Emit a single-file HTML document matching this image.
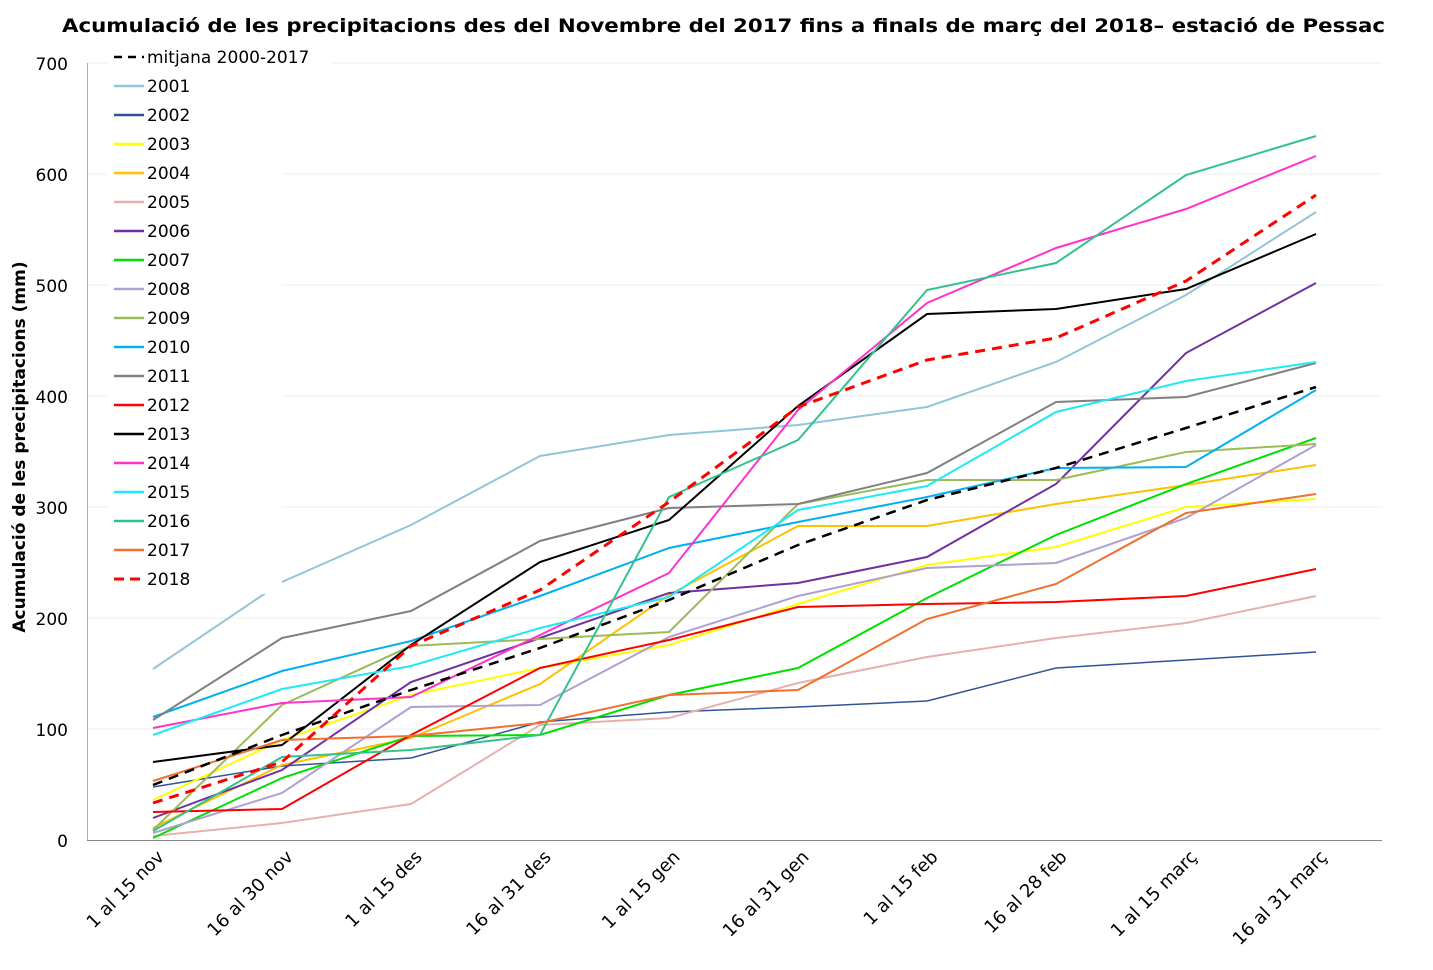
<!DOCTYPE html>
<html><head><meta charset="utf-8"><style>
body{margin:0;background:#fff}
text{font-family:"DejaVu Sans","Liberation Sans",sans-serif}
</style></head><body>
<svg width="1433" height="965" xmlns="http://www.w3.org/2000/svg">
<rect width="1433" height="965" fill="#fff"/>
<text x="62" y="32" font-size="19" font-weight="bold" textLength="1323" lengthAdjust="spacingAndGlyphs">Acumulació de les precipitacions des del Novembre del 2017 fins a finals de març del 2018– estació de Pessac</text>
<g stroke="#eeeeee" stroke-width="1">
<line x1="88" y1="63" x2="1382" y2="63"/><line x1="88" y1="174" x2="1382" y2="174"/><line x1="88" y1="285" x2="1382" y2="285"/><line x1="88" y1="396" x2="1382" y2="396"/><line x1="88" y1="507" x2="1382" y2="507"/><line x1="88" y1="618" x2="1382" y2="618"/><line x1="88" y1="729" x2="1382" y2="729"/>
</g>
<line x1="87.5" y1="63" x2="87.5" y2="840" stroke="#aaa"/>
<line x1="87" y1="840.5" x2="1382" y2="840.5" stroke="#888"/>
<g font-size="17" text-anchor="end">
<text x="68" y="70">700</text><text x="68" y="181">600</text><text x="68" y="292">500</text><text x="68" y="403">400</text><text x="68" y="514">300</text><text x="68" y="625">200</text><text x="68" y="736">100</text><text x="68" y="847">0</text>
</g>
<text transform="translate(25,447) rotate(-90)" text-anchor="middle" font-size="17" font-weight="bold">Acumulació de les precipitacions (mm)</text>
<g font-size="18" text-anchor="end">
<text transform="translate(165,858) rotate(-45)">1 al 15 nov</text>
<text transform="translate(294,858) rotate(-45)">16 al 30 nov</text>
<text transform="translate(423,858) rotate(-45)">1 al 15 des</text>
<text transform="translate(552,858) rotate(-45)">16 al 31 des</text>
<text transform="translate(681,858) rotate(-45)">1 al 15 gen</text>
<text transform="translate(810,858) rotate(-45)">16 al 31 gen</text>
<text transform="translate(939,858) rotate(-45)">1 al 15 feb</text>
<text transform="translate(1068,858) rotate(-45)">16 al 28 feb</text>
<text transform="translate(1198,858) rotate(-45)">1 al 15 març</text>
<text transform="translate(1328,858) rotate(-45)">16 al 31 març</text>
</g>
<g fill="none" stroke-width="2">
<polyline stroke="#92c5d8" points="153,669 282,582 411,525 540,456 669,435 798,425 927,407 1056,362 1186,295 1316,212"/>
<polyline stroke="#2f5597" stroke-width="1.5" points="153,787 282,766 411,758 540,722 669,712 798,707 927,701 1056,668 1186,660 1316,652"/>
<polyline stroke="#ffff00" points="153,800 282,740 411,695 540,668 669,645 798,604 927,565 1056,547 1186,507 1316,499"/>
<polyline stroke="#ffc000" points="153,828 282,765 411,738 540,684 669,595 798,526 927,526 1056,504 1186,485 1316,465"/>
<polyline stroke="#e6b0b0" points="153,836 282,823 411,804 540,725 669,718 798,683 927,657 1056,638 1186,623 1316,596"/>
<polyline stroke="#7030a0" points="153,818 282,770 411,682 540,638 669,593 798,583 927,557 1056,484 1186,353 1316,283"/>
<polyline stroke="#00e000" points="153,838 282,778 411,736 540,735 669,695 798,668 927,598 1056,535 1186,484 1316,438"/>
<polyline stroke="#b0a0d0" points="153,833 282,793 411,707 540,705 669,637 798,596 927,568 1056,563 1186,518 1316,445"/>
<polyline stroke="#9bbb59" points="153,830 282,705 411,646 540,639 669,632 798,504 927,480 1056,480 1186,452 1316,444"/>
<polyline stroke="#00b0f0" points="153,717 282,671 411,641 540,596 669,548 798,522 927,497 1056,468 1186,467 1316,390"/>
<polyline stroke="#808080" points="153,720 282,638 411,611 540,541 669,508 798,504 927,473 1056,402 1186,397 1316,363"/>
<polyline stroke="#ff0000" points="153,812 282,809 411,735 540,668 669,640 798,607 927,604 1056,602 1186,596 1316,569"/>
<polyline stroke="#000000" points="153,762 282,745 411,645 540,562 669,520 798,406 927,314 1056,309 1186,289 1316,234"/>
<polyline stroke="#ff33cc" points="153,728 282,703 411,697 540,635 669,573 798,410 927,303 1056,248 1186,209 1316,156"/>
<polyline stroke="#1eeaf4" points="153,735 282,689 411,666 540,628 669,597 798,510 927,486 1056,412 1186,381 1316,362"/>
<polyline stroke="#33c28a" points="153,831 282,757 411,750 540,735 669,497 798,440 927,290 1056,263 1186,175 1316,136"/>
<polyline stroke="#f07030" points="153,781 282,740 411,736 540,723 669,695 798,690 927,619 1056,584 1186,513 1316,494"/>
<polyline stroke="#000" stroke-width="2.5" stroke-dasharray="10,7" points="153,785 282,735 411,690 540,648 669,600 798,545 927,500 1056,468 1186,428 1316,387"/>
<polyline stroke="#ff0000" stroke-width="3" stroke-dasharray="10,7" points="153,803 282,762 411,646 540,590 669,502 798,407 927,360 1056,338 1186,281 1316,195"/>
</g>
<rect x="107" y="44" width="224" height="26" fill="#fff"/>
<rect x="107" y="70" width="175" height="524" fill="#fff"/>
<g stroke-width="2.5">
<line x1="114" y1="57" x2="144" y2="57" stroke="#000" stroke-dasharray="8,6"/>
<line x1="114" y1="86" x2="144" y2="86" stroke="#92c5d8"/>
<line x1="114" y1="115" x2="144" y2="115" stroke="#2f5597"/>
<line x1="114" y1="144" x2="144" y2="144" stroke="#ffff00"/>
<line x1="114" y1="173" x2="144" y2="173" stroke="#ffc000"/>
<line x1="114" y1="202" x2="144" y2="202" stroke="#e6b0b0"/>
<line x1="114" y1="231" x2="144" y2="231" stroke="#7030a0"/>
<line x1="114" y1="260" x2="144" y2="260" stroke="#00e000"/>
<line x1="114" y1="289" x2="144" y2="289" stroke="#b0a0d0"/>
<line x1="114" y1="318" x2="144" y2="318" stroke="#9bbb59"/>
<line x1="114" y1="347" x2="144" y2="347" stroke="#00b0f0"/>
<line x1="114" y1="376" x2="144" y2="376" stroke="#808080"/>
<line x1="114" y1="405" x2="144" y2="405" stroke="#ff0000"/>
<line x1="114" y1="434" x2="144" y2="434" stroke="#000"/>
<line x1="114" y1="463" x2="144" y2="463" stroke="#ff33cc"/>
<line x1="114" y1="492" x2="144" y2="492" stroke="#1eeaf4"/>
<line x1="114" y1="521" x2="144" y2="521" stroke="#33c28a"/>
<line x1="114" y1="550" x2="144" y2="550" stroke="#f07030"/>
<line x1="114" y1="579" x2="144" y2="579" stroke="#ff0000" stroke-width="3" stroke-dasharray="10,6"/>
</g>
<g font-size="17">
<text x="147" y="63">mitjana 2000-2017</text>
<text x="147" y="92">2001</text><text x="147" y="121">2002</text><text x="147" y="150">2003</text><text x="147" y="179">2004</text><text x="147" y="208">2005</text><text x="147" y="237">2006</text><text x="147" y="266">2007</text><text x="147" y="295">2008</text><text x="147" y="324">2009</text><text x="147" y="353">2010</text><text x="147" y="382">2011</text><text x="147" y="411">2012</text><text x="147" y="440">2013</text><text x="147" y="469">2014</text><text x="147" y="498">2015</text><text x="147" y="527">2016</text><text x="147" y="556">2017</text><text x="147" y="585">2018</text>
</g>
</svg>
</body></html>
